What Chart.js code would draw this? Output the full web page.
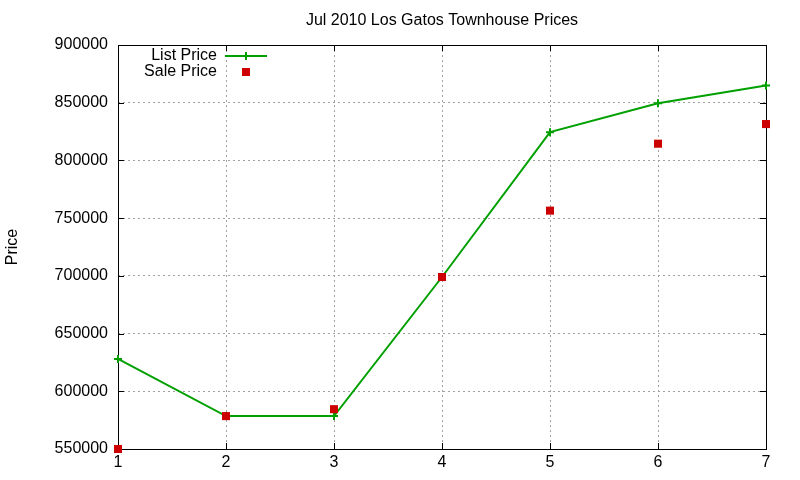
<!DOCTYPE html>
<html>
<head>
<meta charset="utf-8">
<script src="https://cdn.jsdelivr.net/npm/chart.js@4/dist/chart.umd.min.js"></script>
<style>
  html, body { margin: 0; padding: 0; background: #fff; }
  #wrap { width: 800px; height: 480px; }
</style>
</head>
<body>
<div id="wrap"><canvas id="c"></canvas></div>
<script>
// Data
const weeks      = [1, 2, 3, 4, 5, 6, 7];
const listPrice  = [628000, 578500, 578500, 699000, 824500, 849500, 865000];
const salePrice  = [550000, 578500, 584500, 699000, 756500, 814500, 831500];
const yTicks     = [550000, 600000, 650000, 700000, 750000, 800000, 850000, 900000];
const chartTitle = 'Jul 2010 Los Gatos Townhouse Prices';

const GREEN = '#00a000';
const RED   = '#cc0000';
const FONT  = '"Liberation Sans", Arial, sans-serif';

// gnuplot-ish frame: border on all four sides with inward ticks,
// title centred over the plot, key in the top-left corner
const framePlugin = {
  id: 'gnuFrame',
  beforeDatasetsDraw(chart) {
    const { ctx, chartArea: a, scales: { x, y } } = chart;
    ctx.save();
    ctx.strokeStyle = '#000';
    ctx.lineWidth = 1;
    ctx.setLineDash([]);
    ctx.strokeRect(Math.round(a.left) + 0.5, Math.round(a.top) + 0.5,
      Math.round(a.right - a.left), Math.round(a.bottom - a.top));
    const tl = 6;
    ctx.beginPath();
    weeks.forEach(v => {
      const px = Math.round(x.getPixelForValue(v)) + 0.5;
      ctx.moveTo(px, a.bottom); ctx.lineTo(px, a.bottom - tl);
      ctx.moveTo(px, a.top);    ctx.lineTo(px, a.top + tl);
    });
    yTicks.forEach(v => {
      const py = Math.round(y.getPixelForValue(v)) + 0.5;
      ctx.moveTo(a.left, py);  ctx.lineTo(a.left + tl, py);
      ctx.moveTo(a.right, py); ctx.lineTo(a.right - tl, py);
    });
    ctx.stroke();

    ctx.font = '16px ' + FONT;
    ctx.fillStyle = '#000';
    ctx.textAlign = 'center';
    ctx.textBaseline = 'middle';
    ctx.fillText(chartTitle, (a.left + a.right) / 2, a.top - 24);
    ctx.restore();
  },
  afterDraw(chart) {
    const { ctx, chartArea: a } = chart;
    const ds = chart.data.datasets;
    ctx.save();
    ctx.font = '16px ' + FONT;
    ctx.fillStyle = '#000';
    ctx.textAlign = 'right';
    ctx.textBaseline = 'middle';
    const tx = a.left + 99;
    const sx0 = a.left + 107, sx1 = a.left + 149, mx = (sx0 + sx1) / 2;
    const r1 = a.top + 11, r2 = a.top + 27;
    ctx.fillText(ds[0].label, tx, r1);
    ctx.fillText(ds[1].label, tx, r2);
    ctx.strokeStyle = ds[0].borderColor;
    ctx.lineWidth = 2;
    ctx.beginPath();
    ctx.moveTo(sx0, r1); ctx.lineTo(sx1, r1);
    ctx.moveTo(mx, r1 - 4); ctx.lineTo(mx, r1 + 4);
    ctx.stroke();
    ctx.fillStyle = ds[1].pointBackgroundColor;
    ctx.fillRect(mx - 4, r2 - 4, 8, 8);
    ctx.restore();
  }
};

const dotted = { color: '#a0a0a0', lineWidth: 1, drawTicks: false };

new Chart(document.getElementById('c'), {
  type: 'line',
  data: {
    labels: weeks,
    datasets: [
      {
        label: 'List Price',
        data: listPrice,
        borderColor: GREEN,
        backgroundColor: GREEN,
        borderWidth: 2,
        tension: 0,
        pointStyle: 'cross',
        pointRadius: 4,
        pointBorderWidth: 2,
        pointBorderColor: GREEN,
        clip: false,
        order: 2,
      },
      {
        label: 'Sale Price',
        data: salePrice,
        showLine: false,
        pointStyle: 'rect',
        pointRadius: 5.7,
        pointBorderWidth: 0,
        pointBackgroundColor: RED,
        borderColor: RED,
        backgroundColor: RED,
        clip: false,
        order: 1,
      },
    ],
  },
  options: {
    responsive: true,
    maintainAspectRatio: false,
    animation: false,
    layout: { padding: { left: 0, right: 34, top: 45, bottom: 0 } },
    plugins: {
      legend: { display: false },
      tooltip: { enabled: false },
      title: { display: false },
    },
    scales: {
      x: {
        type: 'category',
        offset: false,
        grid: { ...dotted },
        border: { display: false, dash: [2, 3] },
        ticks: { color: '#000', font: { family: FONT, size: 16 }, padding: 4, maxRotation: 0 },
        afterFit(s) { s.height = 31; },
      },
      y: {
        min: 550000,
        max: 900000,
        grid: { ...dotted },
        border: { display: false, dash: [2, 3] },
        afterBuildTicks(s) { s.ticks = yTicks.map(v => ({ value: v })); },
        ticks: {
          color: '#000',
          font: { family: FONT, size: 16 },
          padding: 10,
          callback: v => String(v),
        },
        title: {
          display: true,
          text: 'Price',
          color: '#000',
          font: { family: FONT, size: 16 },
          padding: { top: 3, bottom: 0 },
        },
        afterFit(s) { s.width = 118; },
      },
    },
  },
  plugins: [framePlugin],
});
</script>
</body>
</html>
